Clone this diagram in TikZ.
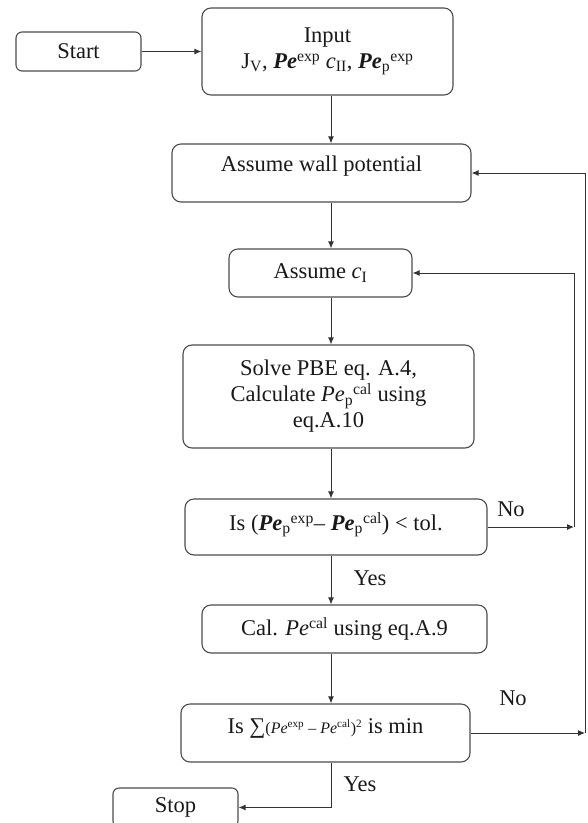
\documentclass[tikz,border=0pt]{standalone}
\usepackage{fontspec}
\setmainfont{Liberation Serif}
\usepackage{tikz}
\usetikzlibrary{arrows.meta}

\newcommand{\Pe}{\textit{Pe}}
\newcommand{\bPe}{\textbf{\textit{Pe}}}

\begin{document}
\begin{tikzpicture}[x=1pt, y=-1pt,
  font=\fontsize{22.5}{26}\selectfont, text=black!90,
  box/.style={draw=black!70, line width=1.1pt, rounded corners=9pt, align=center, inner sep=0pt},
  arr/.style={draw=black!80, line width=1pt, -{Latex[length=7pt,width=6pt]}},
  lbl/.style={inner sep=0pt}]
  \clip (0,0) rectangle (588,823);
  \coordinate (axis) at (331,0);
  \coordinate (inner) at (574,0);
  \coordinate (outer) at (585,0);

  % boxes
  \node[box, minimum width=125, minimum height=39, rounded corners=6pt] (start) at (78.5,51.5) {Start};
  \node[box, minimum width=251, minimum height=87] (input) at (327.5,51.5)
    {Input\\J\textsubscript{V}, \bPe\textsuperscript{exp} \textit{c}\textsubscript{II}, \bPe\textsubscript{p}\textsuperscript{exp}};
  \node[box, minimum width=299, minimum height=58, text depth=19pt] (wall) at (321.5,173) {Assume wall potential};
  \node[box, minimum width=183, minimum height=48] (cI) at (320.5,273) {Assume \textit{c}\textsubscript{I}};
  \node[box, minimum width=291, minimum height=103] (solve) at (328.5,396.5)
    {Solve PBE eq. A.4,\\Calculate \Pe\textsubscript{p}\textsuperscript{cal} using\\eq.A.10};
  \node[box, minimum width=302, minimum height=56, text depth=11pt] (tol) at (336,527)
    {Is (\bPe\textsubscript{p}\textsuperscript{exp}-- \bPe\textsubscript{p}\textsuperscript{cal}) < tol.};
  \node[box, minimum width=285, minimum height=48] (cal) at (344.5,629)
    {Cal. \Pe\textsuperscript{cal} using eq.A.9};
  \node[box, minimum width=289, minimum height=58, text depth=13pt] (min) at (325.5,733)
    {Is ∑{\fontsize{16}{16}\selectfont(\Pe\textsuperscript{exp} -- \Pe\textsuperscript{cal})\textsuperscript{2}} is min};
  \node[box, minimum width=125, minimum height=39, rounded corners=6pt] (stop) at (175.5,807.5) {Stop};

  % labels
  \node[lbl] (no1) at (511,509) {No};
  \node[lbl] (yes1) at (370,578) {Yes};
  \node[lbl] (no2) at (513,698) {No};
  \node[lbl] (yes2) at (360,784) {Yes};

  % main flow
  \draw[arr] (start) -- (input);
  \draw[arr] (input.south -| axis) -- (wall.north -| axis);
  \draw[arr] (wall.south -| axis) -- (cI.north -| axis);
  \draw[arr] (cI.south -| axis) -- (solve.north -| axis);
  \draw[arr] (solve.south -| axis) -- (tol.north -| axis);
  \draw[arr] (tol.south -| axis) -- (cal.north -| axis);
  \draw[arr] (cal.south -| axis) -- (min.north -| axis);
  \draw[arr] (min.south -| axis) |- (stop.east);

  % loops
  \draw[arr] (tol.east) -- (tol.east -| inner);
  \draw[arr] (tol.east -| inner) |- (cI.east);
  \draw[arr] (min.east) -- (min.east -| outer);
  \draw[arr] (min.east -| outer) |- (wall.east);
\end{tikzpicture}
\end{document}
